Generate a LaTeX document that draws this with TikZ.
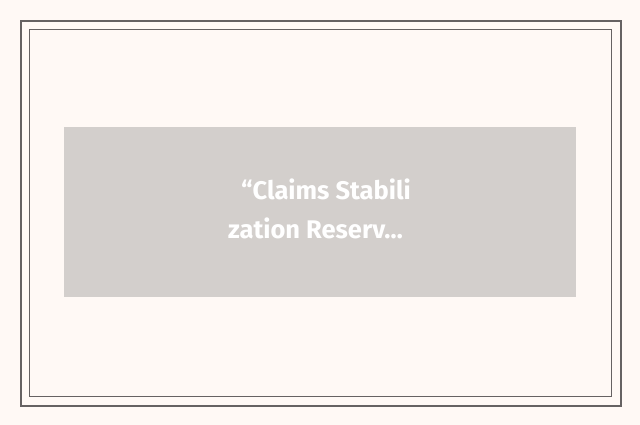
\documentclass[tikz,border=0pt]{standalone}
\usepackage{fontspec}
\setmainfont{Fira Sans}
\definecolor{bg}{HTML}{FFF9F5}
\definecolor{frame}{HTML}{666262}
\definecolor{panel}{HTML}{D3CFCC}
\begin{document}
\begin{tikzpicture}[x=1pt,y=-1pt,
  outerframe/.style={draw=frame,line width=2pt},
  innerframe/.style={draw=frame,line width=1pt},
  panelbox/.style={fill=panel,draw=none},
  label/.style={text=white,font=\bfseries\fontsize{25.5}{39}\selectfont,inner sep=0pt,anchor=base west}]
\fill[bg] (0,0) rectangle (640,425);
\useasboundingbox (0,0) rectangle (640,425);
\draw[outerframe] (21,21) rectangle (621,406);
\draw[innerframe] (29.5,29.5) rectangle (611.5,396.5);
\fill[panelbox] (64,127) rectangle (576,297);
\node[label] (line1) at (241,199) {“Claims Stabili};
\node[label] (line2) at (228,238) {zation Reserv…};
\end{tikzpicture}
\end{document}
